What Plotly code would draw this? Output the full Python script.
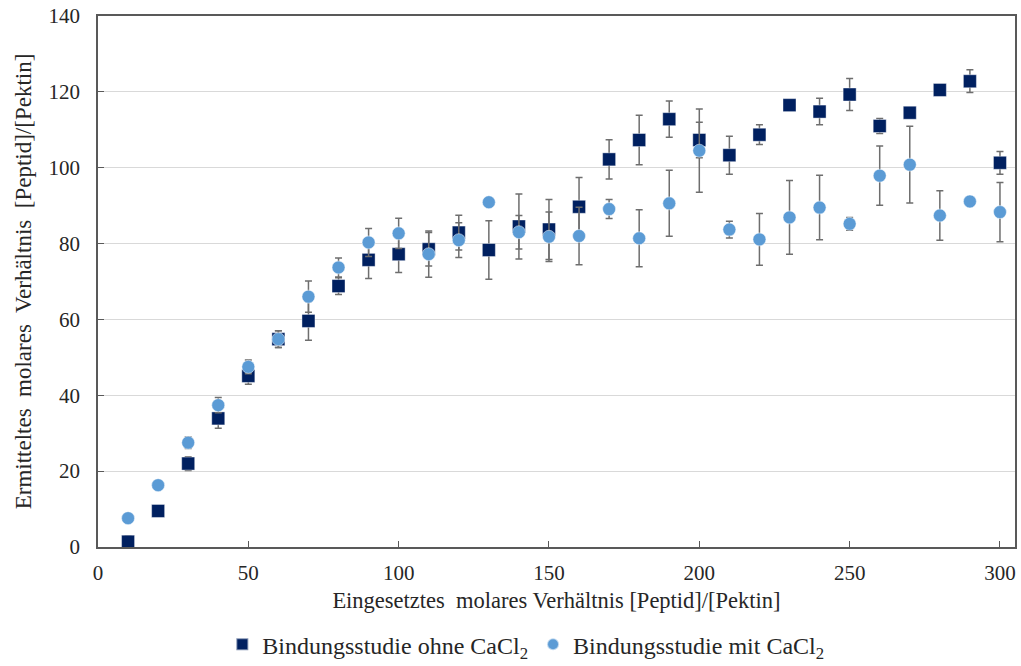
import plotly.graph_objects as go

x_ratio = [10, 20, 30, 40, 50, 60, 70, 80, 90, 100, 110, 120, 130, 140, 150,
           160, 170, 180, 190, 200, 210, 220, 230, 240, 250, 260, 270, 280, 290, 300]

ohne_vals = [1.4, 9.5, 22.0, 33.9, 45.1, 54.8, 59.6, 68.8, 75.7, 77.2, 78.5, 82.9, 78.3, 84.5, 83.7,
             89.7, 102.2, 107.3, 112.8, 107.3, 103.3, 108.7, 116.5, 114.8, 119.3, 111.0, 114.5, 120.5, 122.8, 101.3]
ohne_err = [1.5, 1.2, 1.8, 2.6, 2.2, 2.2, 5.1, 2.2, 4.9, 4.8, 4.4, 4.6, 7.7, 8.6, 7.9,
            7.7, 5.2, 6.5, 4.8, 4.7, 5.0, 2.6, 1.0, 3.5, 4.2, 2.0, 0.0, 0.0, 3.0, 3.0]

mit_vals = [7.6, 16.3, 27.5, 37.4, 47.5, 54.8, 66.0, 73.7, 80.3, 82.7, 77.2, 80.9, 90.9, 83.0, 81.8,
            82.0, 89.1, 81.4, 90.6, 104.5, 83.7, 81.1, 86.9, 89.5, 85.2, 97.9, 100.8, 87.4, 91.1, 88.3]
mit_err = [0.0, 0.0, 1.5, 2.0, 1.8, 2.2, 4.1, 2.5, 3.7, 4.0, 6.1, 4.6, 0.0, 4.4, 6.5,
           7.6, 2.5, 7.5, 8.7, 11.0, 2.2, 6.8, 9.7, 8.5, 1.7, 7.8, 10.1, 6.5, 0.0, 7.8]

x_ticks = [0, 50, 100, 150, 200, 250, 300]
y_ticks = [0, 20, 40, 60, 80, 100, 120, 140]

FONT = "Liberation Serif"
TXT = "#262626"

fig = go.Figure()
fig.add_trace(go.Scatter(
    x=x_ratio, y=ohne_vals, mode="markers",
    name="Bindungsstudie ohne CaCl<sub>2</sub>",
    marker=dict(symbol="square", size=13, color="#002060",
                line=dict(color="rgba(255,255,255,0.5)", width=0.8)),
    error_y=dict(type="data", array=ohne_err, visible=True,
                 color="#6e6e6e", thickness=1.5, width=3.5),
))
fig.add_trace(go.Scatter(
    x=x_ratio, y=mit_vals, mode="markers",
    name="Bindungsstudie mit CaCl<sub>2</sub>",
    marker=dict(symbol="circle", size=13, color="#5B9BD5",
                line=dict(color="rgba(255,255,255,0.6)", width=0.8)),
    error_y=dict(type="data", array=mit_err, visible=True,
                 color="#6e6e6e", thickness=1.5, width=3.5),
))

fig.update_layout(
    width=1021, height=666,
    margin=dict(l=98, r=4, t=16, b=119),
    paper_bgcolor="white", plot_bgcolor="white",
    font=dict(family=FONT, size=21, color=TXT),
    showlegend=True,
    legend=dict(orientation="h", xref="container", yref="container",
                x=0.515, xanchor="center", y=0.032, yanchor="middle",
                font=dict(family=FONT, size=24, color=TXT),
                itemsizing="constant", itemwidth=30, tracegroupgap=0,
                bgcolor="rgba(0,0,0,0)"),
    xaxis=dict(range=[0, 305], tickvals=x_ticks, ticks="inside", ticklen=6,
               tickcolor="#595959", showgrid=False, zeroline=False,
               showline=True, linecolor="#595959", linewidth=1.5, mirror=True,
               tickfont=dict(family=FONT, size=21, color=TXT),
               ticklabelstandoff=6,
               title=dict(text="Eingesetztes\u00a0 molares Verhältnis [Peptid]/[Pektin]",
                          font=dict(family=FONT, size=22.5, color=TXT), standoff=8)),
    yaxis=dict(range=[0, 140], tickvals=y_ticks, ticks="inside", ticklen=6,
               tickcolor="#595959", showgrid=True, gridcolor="#d9d9d9", gridwidth=1,
               zeroline=False,
               showline=True, linecolor="#595959", linewidth=1.5, mirror=True,
               tickfont=dict(family=FONT, size=21, color=TXT),
               ticklabelstandoff=12,
               title=dict(text="Ermitteltes\u00a0 molares\u00a0 Verhältnis\u00a0 [Peptid]/[Pektin]",
                          font=dict(family=FONT, size=23, color=TXT), standoff=10)),
)

fig.write_html("out.html")
